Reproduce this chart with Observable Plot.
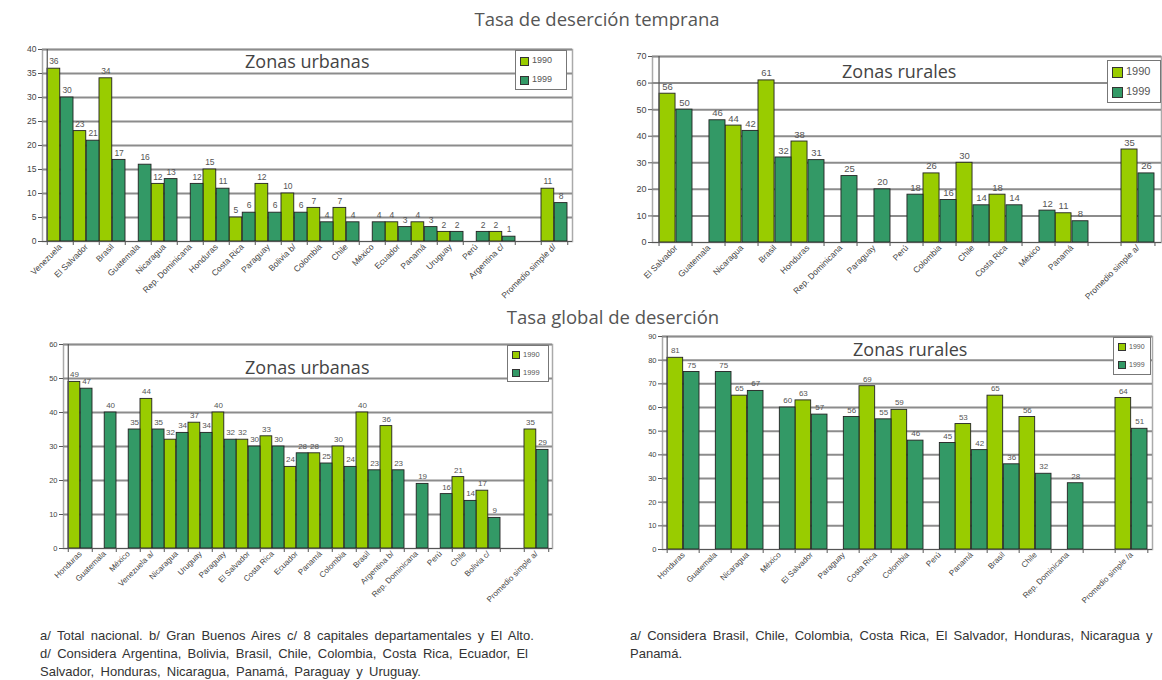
<!DOCTYPE html>
<html>
<head>
<meta charset="utf-8">
<script src="https://cdn.jsdelivr.net/npm/d3@7"></script>
<script src="https://cdn.jsdelivr.net/npm/@observablehq/plot@0.6"></script>
<style>
  body { margin: 0; background: #fff; }
  #root { position: relative; width: 1162px; height: 680px; overflow: hidden; font-family: "Liberation Sans", Arial, sans-serif; }
  .abs { position: absolute; }
  .bigtitle { font-family: "Open Sans", sans-serif; font-size: 18.5px; color: #555; white-space: nowrap; transform: translateX(-50%); }
  .ztitle { font-family: "Open Sans", sans-serif; color: #444; white-space: nowrap; font-size: 18px; }
  .legend { border: 1.5px solid #777; background: #fff; box-sizing: border-box; color: #555; display: flex; flex-direction: column; justify-content: space-around; padding-left: 4px; }
  .legend span.sw { display: inline-block; border: 1px solid #333; margin-right: 3px; vertical-align: middle; }
  .note { font-size: 13px; color: #333; line-height: 18px; word-spacing: 2.7px; white-space: nowrap; }
</style>
</head>
<body>
<div id="root"></div>
<script>
// ---------- data ----------
const years = ["1990", "1999"];

// Tasa de deserción temprana — zonas urbanas
const tempUrbCats = ["Venezuela", "El Salvador", "Brasil", "Guatemala", "Nicaragua", "Rep. Dominicana", "Honduras", "Costa Rica", "Paraguay", "Bolivia b/", "Colombia", "Chile", "México", "Ecuador", "Panamá", "Uruguay", "Perú", "Argentina c/", " ", "Promedio simple d/"];
const tempUrb1990 = [36, 23, 34, null, 12, null, 15, 5, 12, 10, 7, 7, null, 4, 4, 2, null, 2, null, 11];
const tempUrb1999 = [30, 21, 17, 16, 13, 12, 11, 6, 6, 6, 4, 4, 4, 3, 3, 2, 2, 1, null, 8];
const tempUrbTicks = [0, 5, 10, 15, 20, 25, 30, 35, 40];

// Tasa de deserción temprana — zonas rurales
const tempRurCats = ["El Salvador", "Guatemala", "Nicaragua", "Brasil", "Honduras", "Rep. Dominicana", "Paraguay", "Perú", "Colombia", "Chile", "Costa Rica", "México", "Panamá", " ", "Promedio simple a/"];
const tempRur1990 = [56, null, 44, 61, 38, null, null, null, 26, 30, 18, null, 11, null, 35];
const tempRur1999 = [50, 46, 42, 32, 31, 25, 20, 18, 16, 14, 14, 12, 8, null, 26];
const tempRurTicks = [0, 10, 20, 30, 40, 50, 60, 70];

// Tasa global de deserción — zonas urbanas
const globUrbCats = ["Honduras", "Guatemala", "México", "Venezuela a/", "Nicaragua", "Uruguay", "Paraguay", "El Salvador", "Costa Rica", "Ecuador", "Panamá", "Colombia", "Brasil", "Argentina b/", "Rep. Dominicana", "Perú", "Chile", "Bolivia c/", " ", "Promedio simple a/"];
const globUrb1990 = [49, null, null, 44, 32, 37, 40, 32, 33, 24, 28, 30, 40, 36, null, null, 21, 17, null, 35];
const globUrb1999 = [47, 40, 35, 35, 34, 34, 32, 30, 30, 28, 25, 24, 23, 23, 19, 16, 14, 9, null, 29];
const globUrbTicks = [0, 10, 20, 30, 40, 50, 60];

// Tasa global de deserción — zonas rurales
const globRurCats = ["Honduras", "Guatemala", "Nicaragua", "México", "El Salvador", "Paraguay", "Costa Rica", "Colombia", "Perú", "Panamá", "Brasil", "Chile", "Rep. Dominicana", " ", "Promedio simple /a"];
const globRur1990 = [81, null, 65, null, 63, null, 69, 59, null, 53, 65, 56, null, null, 64];
const globRur1999 = [75, 75, 67, 60, 57, 56, 55, 46, 45, 42, 36, 32, 28, null, 51];
const globRurTicks = [0, 10, 20, 30, 40, 50, 60, 70, 80, 90];

const mainTitles = ["Tasa de deserción temprana", "Tasa global de deserción"];
const zoneTitles = ["Zonas urbanas", "Zonas rurales"];
const notesLeft = ["a/ Total nacional. b/ Gran Buenos Aires c/ 8 capitales departamentales y El Alto.", "d/ Considera Argentina, Bolivia, Brasil, Chile, Colombia, Costa Rica, Ecuador, El", "Salvador, Honduras, Nicaragua, Panamá, Paraguay y Uruguay."];
const notesRight = ["a/ Considera Brasil, Chile, Colombia, Costa Rica, El Salvador, Honduras, Nicaragua y", "Panamá."];

// ---------- styles ----------
const LIGHT = "#99cc00";
const DARK = "#339966";
const root = document.getElementById("root");

function el(tag, cls, css, html) {
  const e = document.createElement(tag);
  if (cls) e.className = cls;
  Object.assign(e.style, css || {});
  if (html != null) e.innerHTML = html;
  root.appendChild(e);
  return e;
}

function panel(o) {
  const {cats, v90, v99, ticks, left, top, width, height, ml, mr, mt, mb, xfs, yfs, vfs} = o;
  const r90 = [], r99 = [];
  cats.forEach((c, i) => {
    if (v90[i] != null) r90.push({cat: c, year: years[0], v: v90[i]});
    if (v99[i] != null) r99.push({cat: c, year: years[1], v: v99[i]});
  });
  const bw = (width - ml - mr) / cats.length;
  const half = bw / 2;
  const yMax = ticks[ticks.length - 1];
  const chart = Plot.plot({
    width, height,
    marginLeft: ml, marginRight: mr, marginTop: mt, marginBottom: mb,
    style: {background: "transparent", overflow: "visible", fontFamily: "Liberation Sans, Arial, sans-serif", color: "#444"},
    x: {type: "band", domain: cats, padding: 0},
    y: {domain: [0, yMax]},
    marks: [
      Plot.frame({stroke: "#aaa", strokeWidth: 1.5}),
      Plot.ruleY(ticks.slice(1), {stroke: "#8c8c8c", strokeWidth: 2}),
      Plot.ruleX(cats, {x: d => d, dx: -half, y1: 0, y2: 0, insetBottom: -4, stroke: "#555"}),
      Plot.ruleX([cats[cats.length - 1]], {x: d => d, dx: half, y1: 0, y2: 0, insetBottom: -4, stroke: "#555"}),
      Plot.barY(r90, {x: "cat", y: "v", fill: LIGHT, stroke: "#222", strokeWidth: 0.9, insetRight: half}),
      Plot.barY(r99, {x: "cat", y: "v", fill: DARK, stroke: "#222", strokeWidth: 0.9, insetLeft: half}),
      Plot.text(r90, {x: "cat", y: "v", text: d => String(d.v), dx: -half / 2, dy: -7, fontSize: vfs, fill: "#555"}),
      Plot.text(r99, {x: "cat", y: "v", text: d => String(d.v), dx: half / 2, dy: -7, fontSize: vfs, fill: "#555"}),
      Plot.ruleX([cats[0]], {x: d => d, dx: -half, stroke: "#555", strokeWidth: 1.2}),
      Plot.ruleY([0], {stroke: "#555", strokeWidth: 1.2}),
      Plot.axisY({ticks, tickSize: 4, tickPadding: 2, fontSize: yfs, stroke: "#555", label: null}),
      Plot.axisX({tickSize: 0, tickRotate: -45, tickPadding: 4, fontSize: xfs, label: null})
    ]
  });
  const wrap = el("div", "abs", {left: left + "px", top: top + "px", width: width + "px", height: height + "px"});
  wrap.appendChild(chart);
  return chart;
}

function legend(x, y, w, h, fs, sw) {
  const lg = el("div", "abs legend", {left: x + "px", top: y + "px", width: w + "px", height: h + "px", fontSize: fs + "px"});
  lg.innerHTML = years.map((yr, i) =>
    `<div><span class="sw" style="width:${sw}px;height:${sw}px;background:${i === 0 ? LIGHT : DARK}"></span>${yr}</div>`
  ).join("");
}

// ---------- panels ----------
panel({cats: tempUrbCats, v90: tempUrb1990, v99: tempUrb1999, ticks: tempUrbTicks,
  left: 0, top: 40, width: 580, height: 300, ml: 42, mr: 8, mt: 9, mb: 99, xfs: 8.5, yfs: 8.5, vfs: 8.5});
panel({cats: tempRurCats, v90: tempRur1990, v99: tempRur1999, ticks: tempRurTicks,
  left: 600, top: 40, width: 562, height: 300, ml: 52, mr: 1, mt: 16, mb: 98, xfs: 8.5, yfs: 9, vfs: 9.5});
panel({cats: globUrbCats, v90: globUrb1990, v99: globUrb1999, ticks: globUrbTicks,
  left: 0, top: 330, width: 580, height: 300, ml: 63, mr: 28, mt: 14, mb: 82, xfs: 8, yfs: 7.5, vfs: 8});
panel({cats: globRurCats, v90: globRur1990, v99: globRur1999, ticks: globRurTicks,
  left: 600, top: 325, width: 562, height: 305, ml: 62, mr: 10, mt: 11, mb: 81, xfs: 8, yfs: 7.5, vfs: 8});

// ---------- titles ----------
el("div", "abs bigtitle", {left: "597px", top: "6px"}, mainTitles[0]);
el("div", "abs bigtitle", {left: "613px", top: "304px"}, mainTitles[1]);
el("div", "abs ztitle", {left: "245px", top: "49px"}, zoneTitles[0]);
el("div", "abs ztitle", {left: "842px", top: "59px"}, zoneTitles[1]);
el("div", "abs ztitle", {left: "245px", top: "355px"}, zoneTitles[0]);
el("div", "abs ztitle", {left: "853px", top: "337px"}, zoneTitles[1]);

// ---------- legends ----------
legend(515, 50, 52, 40, 9, 7);
legend(1107, 60, 54, 43, 11, 9);
legend(507, 345, 42, 37, 7.5, 6);
legend(1113, 337, 38, 38, 7, 6);

// ---------- notes ----------
el("div", "abs note", {left: "40px", top: "627px"}, notesLeft.join("<br>"));
el("div", "abs note", {left: "630px", top: "627px"}, notesRight.join("<br>"));
</script>
</body>
</html>
